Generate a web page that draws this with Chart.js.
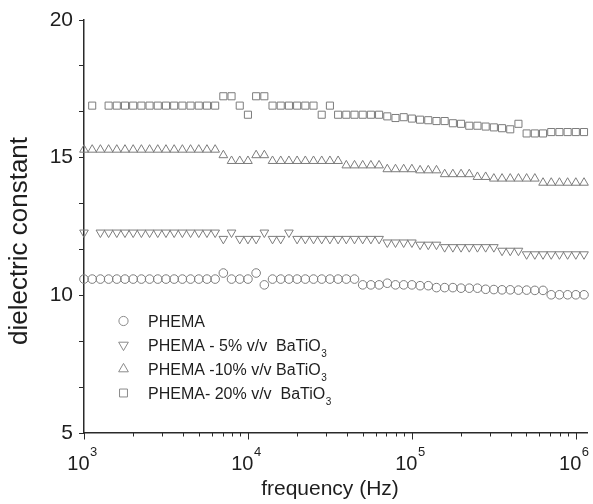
<!DOCTYPE html>
<html>
<head>
<meta charset="utf-8">
<title>Dielectric constant vs frequency</title>
<script src="https://cdn.jsdelivr.net/npm/chart.js@4.4.1/dist/chart.umd.min.js"></script>
<style>
    html, body { margin: 0; padding: 0; background: #ffffff; }
    canvas { display: block; }
</style>
</head>
<body>
<canvas id="dielectric-chart" width="593" height="504"></canvas>
<script>
// measurement frequencies (Hz), 20 points per decade
const frequencies = [
    1000, 1122, 1259, 1413, 1585, 1778, 1995, 2239, 2512, 2818,
    3162, 3548, 3981, 4467, 5012, 5623, 6310, 7079, 7943, 8913,
    10000, 11220, 12589, 14125, 15849, 17783, 19953, 22387, 25119, 28184,
    31623, 35481, 39811, 44668, 50119, 56234, 63096, 70795, 79433, 89125,
    100000, 112202, 125893, 141254, 158489, 177828, 199526, 223872, 251189, 281838,
    316228, 354813, 398107, 446684, 501187, 562341, 630957, 707946, 794328, 891251,
    1000000, 1122018
];

const phema = [
    10.59, 10.59, 10.59, 10.59, 10.59, 10.59, 10.59, 10.59, 10.59, 10.59,
    10.59, 10.59, 10.59, 10.59, 10.59, 10.59, 10.59, 10.81, 10.59, 10.59,
    10.59, 10.81, 10.38, 10.59, 10.59, 10.59, 10.59, 10.59, 10.59, 10.59,
    10.59, 10.59, 10.59, 10.59, 10.38, 10.38, 10.38, 10.44, 10.38, 10.38,
    10.38, 10.35, 10.35, 10.28, 10.28, 10.28, 10.26, 10.26, 10.26, 10.22,
    10.21, 10.20, 10.20, 10.19, 10.19, 10.18, 10.18, 10.02, 10.02, 10.02,
    10.02, 10.02
];

const phema5 = [
    12.28, null, 12.28, 12.28, 12.28, 12.28, 12.28, 12.28, 12.28, 12.28,
    12.28, 12.28, 12.28, 12.28, 12.28, 12.28, 12.28, 12.05, 12.28, 12.05,
    12.05, 12.05, 12.28, 12.05, 12.05, 12.28, 12.05, 12.05, 12.05, 12.05,
    12.05, 12.05, 12.05, 12.05, 12.05, 12.05, 12.05, 11.92, 11.92, 11.92,
    11.92, 11.84, 11.84, 11.84, 11.75, 11.75, 11.75, 11.75, 11.75, 11.75,
    11.75, 11.62, 11.62, 11.62, 11.49, 11.49, 11.49, 11.49, 11.49, 11.49,
    11.49, 11.49
];

const phema10 = [
    15.29, 15.29, 15.29, 15.29, 15.29, 15.29, 15.29, 15.29, 15.29, 15.29,
    15.29, 15.29, 15.29, 15.29, 15.29, 15.29, 15.29, 15.09, 14.88, 14.88,
    14.88, 15.09, 15.09, 14.88, 14.88, 14.88, 14.88, 14.88, 14.88, 14.88,
    14.88, 14.88, 14.72, 14.72, 14.72, 14.72, 14.72, 14.58, 14.58, 14.58,
    14.58, 14.54, 14.54, 14.54, 14.40, 14.40, 14.40, 14.40, 14.30, 14.30,
    14.24, 14.24, 14.24, 14.24, 14.24, 14.24, 14.09, 14.09, 14.09, 14.09,
    14.09, 14.09
];

const phema20 = [
    null, 16.89, null, 16.89, 16.89, 16.89, 16.89, 16.89, 16.89, 16.89,
    16.89, 16.89, 16.89, 16.89, 16.89, 16.89, 16.89, 17.23, 17.23, 16.89,
    16.56, 17.23, 17.23, 16.89, 16.89, 16.89, 16.89, 16.89, 16.89, 16.56,
    16.89, 16.56, 16.56, 16.56, 16.56, 16.56, 16.56, 16.50, 16.44, 16.47,
    16.42, 16.38, 16.36, 16.33, 16.33, 16.25, 16.23, 16.16, 16.16, 16.13,
    16.10, 16.07, 16.03, 16.23, 15.88, 15.88, 15.88, 15.93, 15.93, 15.93,
    15.93, 15.93
];

const seriesNames = ['PHEMA', 'PHEMA - 5% v/v  BaTiO', 'PHEMA -10% v/v BaTiO', 'PHEMA- 20% v/v  BaTiO'];
const seriesSubscripts = ['', '3', '3', '3'];

const xTickValues = [1e3, 1e4, 1e5, 1e6];
const xTickExponents = ['3', '4', '5', '6'];
const yTickLabels = [5, 10, 15, 20];

const xTitle = 'frequency (Hz)';
const yTitle = 'dielectric constant';

const FONT = "'Liberation Sans', Arial, Helvetica, sans-serif";
const INK = '#1e1e1e';
const AXIS = '#2a2a2a';
const MARK = '#7c7c7c';

const markerStyles = [
    { pointStyle: 'circle', rotation: 0, radius: 4.3 },
    { pointStyle: 'triangle', rotation: 180, radius: 5 },
    { pointStyle: 'triangle', rotation: 0, radius: 5 },
    { pointStyle: 'rect', rotation: 0, radius: 5 }
];

function toPoints(values) {
    return frequencies
        .map((f, i) => ({ x: f, y: values[i] }))
        .filter(p => p.y !== null);
}

function drawMarker(ctx, style, x, y, r) {
    ctx.beginPath();
    if (style.pointStyle === 'circle') {
        ctx.arc(x, y, r, 0, Math.PI * 2);
    } else if (style.pointStyle === 'rect') {
        const s = r * Math.SQRT1_2;
        ctx.rect(x - s, y - s, 2 * s, 2 * s);
    } else {
        let rad = style.rotation * Math.PI / 180;
        for (let k = 0; k < 3; k++) {
            const px = x + Math.sin(rad) * r;
            const py = y - Math.cos(rad) * r;
            if (k === 0) ctx.moveTo(px, py); else ctx.lineTo(px, py);
            rad += Math.PI * 2 / 3;
        }
        ctx.closePath();
    }
    ctx.stroke();
}

// ticks, tick labels with exponents, axis titles and the in-plot legend
const paperAxes = {
    id: 'paperAxes',
    afterDraw(chart) {
        const ctx = chart.ctx;
        const xs = chart.scales.x;
        const area = chart.chartArea;
        ctx.save();

        ctx.strokeStyle = AXIS;
        ctx.lineWidth = 1;
        for (let e = 3; e <= 6; e++) {
            for (let k = 1; k <= 9; k++) {
                const v = k * Math.pow(10, e);
                if (v > xs.max) break;
                const px = Math.round(xs.getPixelForValue(v)) + 0.5;
                const len = k === 1 ? 6.5 : 3.5;
                ctx.beginPath();
                ctx.moveTo(px, area.bottom);
                ctx.lineTo(px, area.bottom + len);
                ctx.stroke();
            }
        }

        ctx.fillStyle = INK;
        ctx.textBaseline = 'alphabetic';
        ctx.textAlign = 'left';
        xTickValues.forEach((v, i) => {
            const px = xs.getPixelForValue(v);
            ctx.font = `20px ${FONT}`;
            const wBase = ctx.measureText('10').width;
            ctx.font = `13px ${FONT}`;
            const wExp = ctx.measureText(xTickExponents[i]).width;
            const left = px - (wBase + wExp) / 2 - 2;
            ctx.font = `20px ${FONT}`;
            ctx.fillText('10', left, 470);
            ctx.font = `13px ${FONT}`;
            ctx.fillText(xTickExponents[i], left + wBase + 0.5, 456);
        });

        ctx.font = `21px ${FONT}`;
        ctx.textAlign = 'center';
        ctx.fillText(xTitle, 330, 495);

        ctx.save();
        ctx.translate(27, 241);
        ctx.rotate(-Math.PI / 2);
        ctx.font = `26px ${FONT}`;
        ctx.fillText(yTitle, 0, 0);
        ctx.restore();

        // legend
        const rowBaselines = [327, 351, 375, 399];
        seriesNames.forEach((name, i) => {
            const base = rowBaselines[i];
            ctx.strokeStyle = '#8a8a8a';
            ctx.lineWidth = 1;
            const st = markerStyles[i];
            const r = st.pointStyle === 'circle' ? 4.6 : 5.6;
            drawMarker(ctx, st, 123.5, base - 6, r);

            ctx.fillStyle = INK;
            ctx.textAlign = 'left';
            ctx.font = `16px ${FONT}`;
            ctx.fillText(name, 148, base);
            if (seriesSubscripts[i]) {
                const w = ctx.measureText(name).width;
                ctx.font = `10px ${FONT}`;
                ctx.fillText(seriesSubscripts[i], 148 + w + 0.5, base + 6);
            }
        });

        ctx.restore();
    }
};

const seriesValues = [phema, phema5, phema10, phema20];

const ctx = document.getElementById('dielectric-chart').getContext('2d');
const chart = new Chart(ctx, {
    type: 'scatter',
    data: {
        datasets: seriesValues.map((vals, i) => ({
            label: seriesNames[i] + seriesSubscripts[i],
            data: toPoints(vals),
            showLine: false,
            pointStyle: markerStyles[i].pointStyle,
            rotation: markerStyles[i].rotation,
            pointRadius: markerStyles[i].radius,
            pointBorderWidth: 1,
            pointBorderColor: MARK,
            pointBackgroundColor: 'rgba(0,0,0,0)',
            clip: false
        }))
    },
    options: {
        responsive: false,
        animation: false,
        events: [],
        layout: {
            padding: { top: 20, right: 5, left: 0, bottom: 0 }
        },
        plugins: {
            legend: { display: false },
            tooltip: { enabled: false }
        },
        scales: {
            x: {
                type: 'logarithmic',
                min: 1000,
                max: 1.17e6,
                afterFit: s => { s.height = 71; },
                ticks: { display: false },
                grid: { display: false },
                border: { display: true, color: AXIS, width: 1.5 }
            },
            y: {
                type: 'linear',
                min: 5,
                max: 20,
                afterFit: s => { s.width = 84; },
                ticks: {
                    stepSize: 5 / 3,
                    autoSkip: false,
                    padding: 6,
                    color: INK,
                    font: { family: FONT, size: 21 },
                    callback: v => yTickLabels.some(t => Math.abs(t - v) < 1e-6) ? String(Math.round(v)) : ''
                },
                grid: {
                    drawOnChartArea: false,
                    drawTicks: true,
                    tickLength: 5,
                    color: AXIS,
                    lineWidth: 1
                },
                border: { display: true, color: AXIS, width: 1.5 }
            }
        }
    },
    plugins: [paperAxes]
});
</script>
</body>
</html>
